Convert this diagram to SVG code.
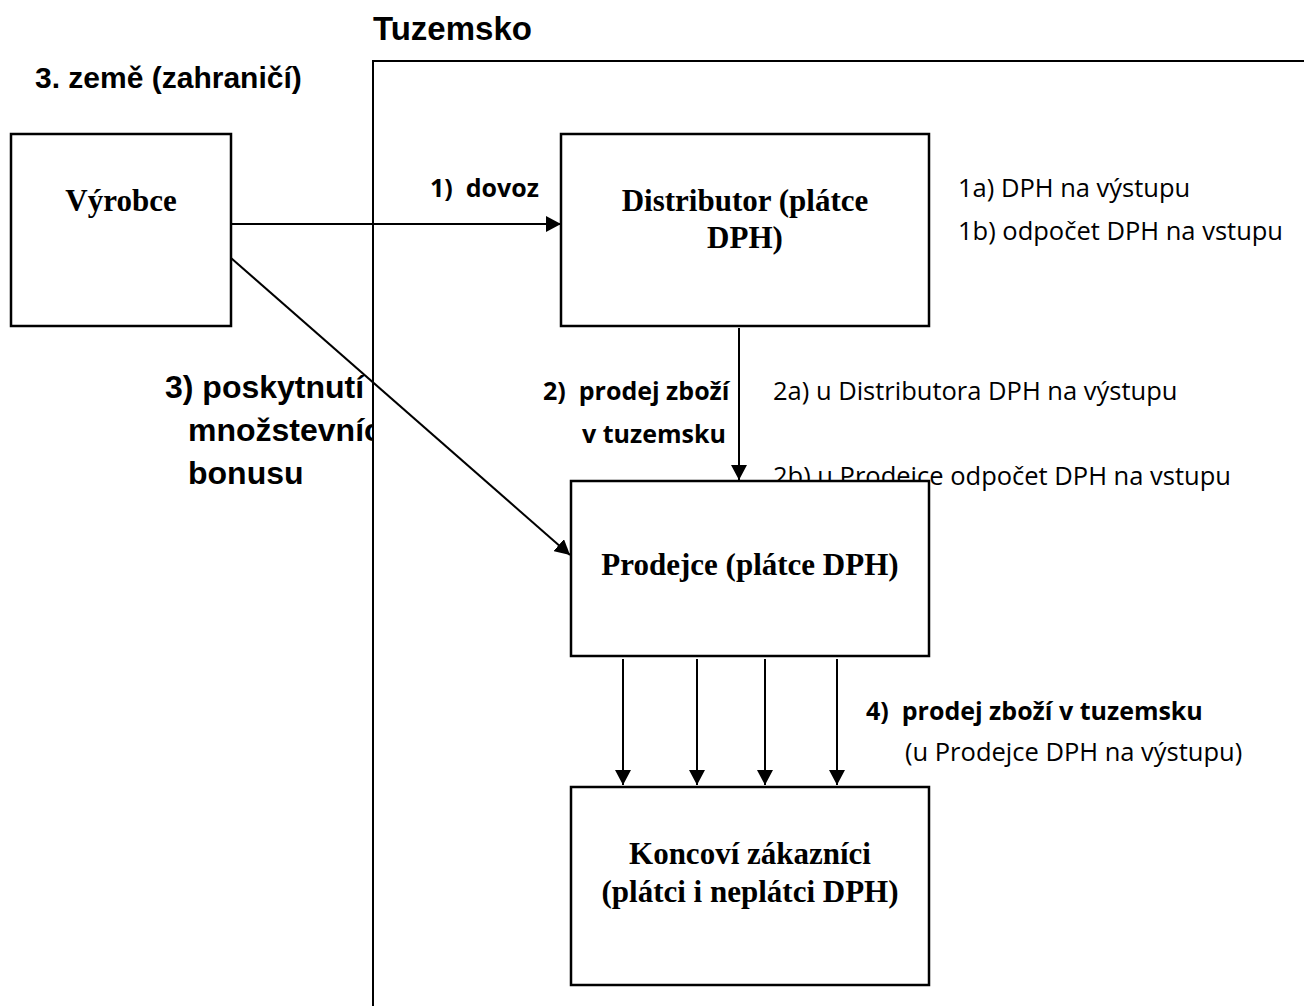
<svg xmlns="http://www.w3.org/2000/svg" width="1304" height="1006" viewBox="0 0 1304 1006">
<style>
.box{fill:#fff;stroke:#000;stroke-width:2.5}
.node{font-family:"Liberation Serif","Times New Roman",serif;font-weight:bold;font-size:31px;fill:#000;text-anchor:middle}
.hdr{font-family:"Liberation Sans",Arial,sans-serif;font-weight:bold;font-size:33px;fill:#000}
.bon{font-family:"Liberation Sans",Arial,sans-serif;font-weight:bold;font-size:32px;fill:#000}
.lb{font-family:"Open Sans","Liberation Sans",sans-serif;font-weight:bold;font-size:25px;fill:#000;white-space:pre}
.lr{font-family:"Open Sans","Liberation Sans",sans-serif;font-size:25.5px;fill:#000;white-space:pre}
.con{stroke:#000;stroke-width:2;fill:none}
</style>
<defs>
<marker id="ah" viewBox="0 0 15 16" refX="15" refY="8" markerWidth="15" markerHeight="16" markerUnits="userSpaceOnUse" orient="auto">
<path d="M0,0 L15,8 L0,16 Z" fill="#000"/>
</marker>
<clipPath id="leftclip"><rect x="0" y="0" width="372" height="1006"/></clipPath>
</defs>
<rect width="1304" height="1006" fill="#fff"/>

<g id="region-border">
<path d="M373,1006 V61 H1304" stroke="#000" stroke-width="2" fill="none"/>
</g>
<g id="region-labels">
<text class="hdr" x="373" y="40">Tuzemsko</text>
<text class="hdr" x="35" y="88" style="font-size:30px">3. země (zahraničí)</text>
</g>

<g id="label-bonus" clip-path="url(#leftclip)">
<text class="bon" x="165" y="398">3) poskytnutí</text>
<text class="bon" x="188" y="441">množstevních</text>
<text class="bon" x="188" y="484">bonusu</text>
</g>

<g id="notes">
<text class="lb" x="430" y="197">1)  dovoz</text>
<text class="lr" x="958" y="197">1a) DPH na výstupu</text>
<text class="lr" x="958" y="240">1b) odpočet DPH na vstupu</text>
<text class="lb" x="543" y="400">2)  prodej zboží</text>
<text class="lb" x="582" y="443">v tuzemsku</text>
<text class="lr" x="773" y="400">2a) u Distributora DPH na výstupu</text>
<text class="lr" x="773" y="485">2b) u Prodejce odpočet DPH na vstupu</text>
<text class="lb" x="866" y="720">4)  prodej zboží v tuzemsku</text>
<text class="lr" x="905" y="761">(u Prodejce DPH na výstupu)</text>
</g>

<g id="connectors">
<line class="con" x1="231" y1="224" x2="561" y2="224" marker-end="url(#ah)"/>
<line class="con" x1="231" y1="258" x2="570" y2="555" marker-end="url(#ah)"/>
<line class="con" x1="739" y1="328" x2="739" y2="480" marker-end="url(#ah)"/>
<line class="con" x1="623" y1="659" x2="623" y2="785" marker-end="url(#ah)"/>
<line class="con" x1="697" y1="659" x2="697" y2="785" marker-end="url(#ah)"/>
<line class="con" x1="765" y1="659" x2="765" y2="785" marker-end="url(#ah)"/>
<line class="con" x1="837" y1="659" x2="837" y2="785" marker-end="url(#ah)"/>
</g>

<g id="node-vyrobce">
<rect class="box" x="11" y="134" width="220" height="192"/>
<text class="node" x="121" y="211">Výrobce</text>
</g>
<g id="node-distributor">
<rect class="box" x="561" y="134" width="368" height="192"/>
<text class="node" x="745" y="211">Distributor (plátce</text>
<text class="node" x="745" y="248">DPH)</text>
</g>
<g id="node-prodejce">
<rect class="box" x="571" y="481" width="358" height="175"/>
<text class="node" x="750" y="575">Prodejce (plátce DPH)</text>
</g>
<g id="node-koncovi">
<rect class="box" x="571" y="787" width="358" height="198"/>
<text class="node" x="750" y="864">Koncoví zákazníci</text>
<text class="node" x="750" y="902">(plátci i neplátci DPH)</text>
</g>
</svg>
